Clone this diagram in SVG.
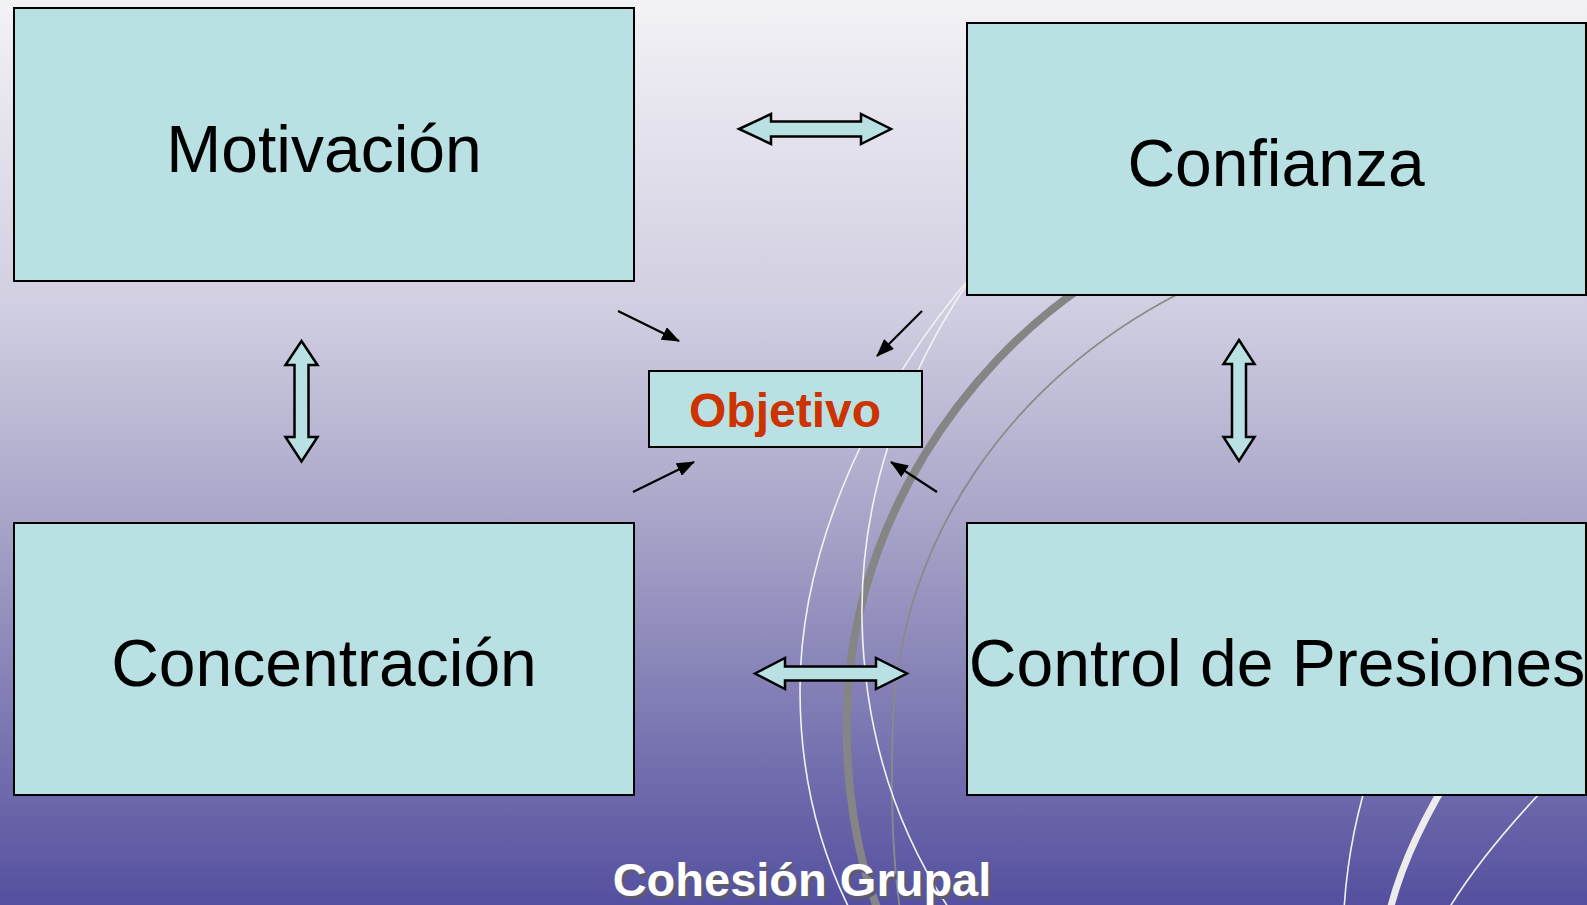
<svg xmlns="http://www.w3.org/2000/svg" width="1587" height="905" viewBox="0 0 1587 905">
<defs>
<linearGradient id="bg" x1="0" y1="0" x2="0" y2="1">
<stop offset="0" stop-color="#f3f2f6"/>
<stop offset="0.35" stop-color="#cfcde0"/>
<stop offset="0.6" stop-color="#a3a0c6"/>
<stop offset="1" stop-color="#55509f"/>
</linearGradient>
<marker id="ah" markerWidth="18" markerHeight="14" refX="17" refY="7" orient="auto" markerUnits="userSpaceOnUse">
<path d="M0,0 L18,7 L0,14 z" fill="#000"/>
</marker>
<style>
.box{fill:#b9e0e3;stroke:#000;stroke-width:2}
.lbl{font-family:"Liberation Sans",Arial,sans-serif;font-size:66px;fill:#000;text-anchor:middle}
.dbl{fill:#b9e0e3;stroke:#000;stroke-width:2.5;stroke-linejoin:miter}
.sm{stroke:#000;stroke-width:2.2;fill:none;marker-end:url(#ah)}
.wl{fill:none;stroke:#f2f2f2;stroke-width:1.6}
.title{font-family:"Liberation Sans",Arial,sans-serif;font-size:47px;font-weight:bold;text-anchor:middle}
</style>
</defs>
<rect x="0" y="0" width="1587" height="905" fill="url(#bg)"/>
<g id="arcs">
<path d="M1085,285 C960,370 860,520 848,690 C842,780 858,860 878,910" fill="none" stroke="#858585" stroke-width="8"/>
<path d="M1180,293 C1010,380 900,540 893,720 C890,800 893,860 900,910" fill="none" stroke="#8a8a8a" stroke-width="1.8"/>
<path class="wl" d="M975,272 C880,380 800,540 800,690 C800,780 820,850 850,910"/>
<path class="wl" d="M975,272 C900,380 860,500 862,620 C864,720 890,820 950,910"/>
<path class="wl" d="M1390,720 Q1350,810 1344,910"/>
<path d="M1480,730 Q1410,830 1390,910" fill="none" stroke="#ececec" stroke-width="7"/>
<path class="wl" d="M1587,745 Q1490,840 1448,910"/>
</g>
<g id="motivacion">
<rect class="box" x="14" y="8" width="620" height="273"/>
<text class="lbl" x="324" y="172">Motivación</text>
</g>
<g id="confianza">
<rect class="box" x="967" y="23" width="619" height="272"/>
<text class="lbl" x="1276" y="186">Confianza</text>
</g>
<g id="concentracion">
<rect class="box" x="14" y="523" width="620" height="272"/>
<text class="lbl" x="324" y="686">Concentración</text>
</g>
<g id="control">
<rect class="box" x="967" y="523" width="619" height="272"/>
<text class="lbl" x="1277" y="686">Control de Presiones</text>
</g>
<g id="objetivo">
<rect class="box" x="649" y="371" width="273" height="76"/>
<text x="785" y="427" font-family="'Liberation Sans',Arial,sans-serif" font-size="48" font-weight="bold" fill="#cc3300" text-anchor="middle">Objetivo</text>
</g>
<g id="connectors">
<polygon class="dbl" points="739,129 771,114 771,121.5 861,121.5 861,114 891,129 861,144 861,136.5 771,136.5 771,144"/>
<polygon class="dbl" points="755,673.5 785,658 785,666.5 876,666.5 876,658 907,673.5 876,689 876,680.5 785,680.5 785,689"/>
<polygon class="dbl" points="301.5,341 317.5,365 308.5,365 308.5,437 317.5,437 301.5,461.5 285.5,437 294.5,437 294.5,365 285.5,365"/>
<polygon class="dbl" points="1239,340 1254.5,364 1246,364 1246,437 1254.5,437 1239,461 1223.5,437 1232,437 1232,364 1223.5,364"/>
<line class="sm" x1="618" y1="311" x2="679" y2="341"/>
<line class="sm" x1="922" y1="311" x2="877" y2="356"/>
<line class="sm" x1="633" y1="492" x2="694" y2="462"/>
<line class="sm" x1="937" y1="492" x2="891" y2="462"/>
</g>
<g id="title">
<text class="title" x="804.5" y="898.5" fill="#5c5c6e">Cohesión Grupal</text>
<text class="title" x="802" y="896" fill="#ffffff">Cohesión Grupal</text>
</g>
</svg>
